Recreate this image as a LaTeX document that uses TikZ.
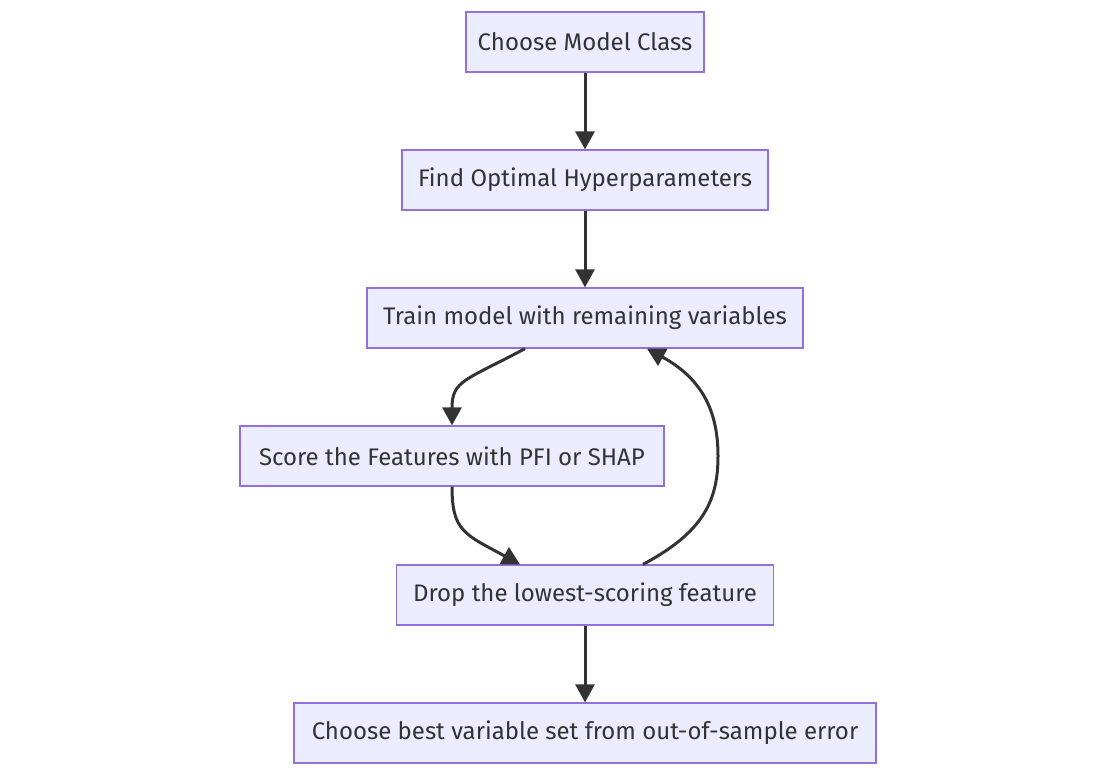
\documentclass[tikz,border=0pt]{standalone}
\usepackage{fontspec}
\setmainfont{Fira Sans}
\usetikzlibrary{arrows.meta,positioning,calc}
\definecolor{boxfill}{HTML}{ECECFF}
\definecolor{boxline}{HTML}{9370DB}
\definecolor{ink}{HTML}{333333}
\tikzset{
  stepbox/.style={draw=boxline, fill=boxfill, line width=1.3pt, rectangle,
    minimum height=60pt, inner xsep=10pt, text=ink,
    font=\fontsize{24}{28}\selectfont},
}
\begin{document}
\begin{tikzpicture}[x=1pt, y=-1pt, ->, >={Triangle[length=18pt,width=19pt]},
    line width=3pt, draw=ink]
    \useasboundingbox[fill=white] (0,0) rectangle (1116,776);
    \node[stepbox, minimum width=238pt] (cls) at (585, 42) {Choose Model Class};
    \node[stepbox, minimum width=366pt] (hyp) at (585, 180) {Find Optimal Hyperparameters};
    \node[stepbox, minimum width=436pt] (train) at (585, 318) {Train model with remaining variables};
    \node[stepbox, minimum width=424pt] (score) at (452, 456) {Score the Features with PFI or SHAP};
    \node[stepbox, minimum width=377pt] (drop) at (585, 595) {Drop the lowest-scoring feature};
    \node[stepbox, minimum width=582pt] (best) at (585, 733) {Choose best variable set from out-of-sample error};
    \coordinate (loop) at (718, 456);
    \draw (cls) -- (hyp);
    \draw (hyp) -- (train);
    \draw ([xshift=-60pt]train.south) .. controls +(-60,32) and +(0,-45) .. (score.north);
    \draw (score.south) .. controls +(0,45) and +(-55,-30) .. ([xshift=-65pt]drop.north);
    \draw ([xshift=58pt]drop.north) .. controls +(60,-32) and +(0,45) .. (loop)
          .. controls +(0,-45) and +(55,30) .. ([xshift=62pt]train.south);
    \draw (drop) -- (best);
\end{tikzpicture}
\end{document}
